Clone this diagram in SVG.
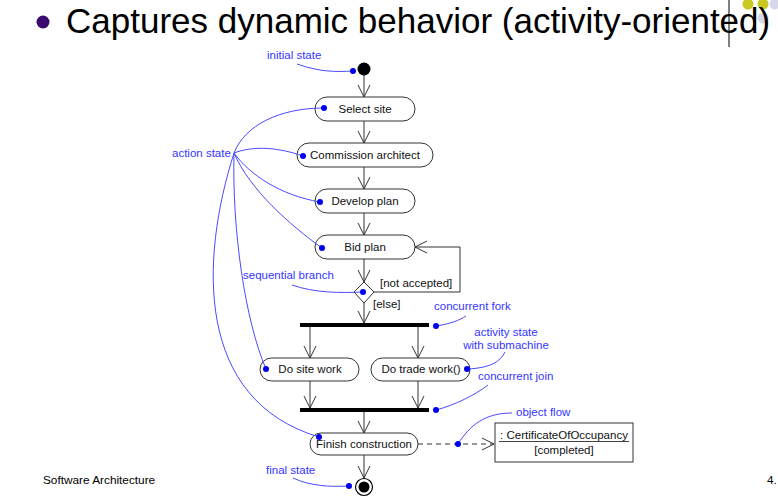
<svg xmlns="http://www.w3.org/2000/svg" width="778" height="500" viewBox="0 0 778 500">
<style>
.node{fill:#fff;stroke:#333;stroke-width:1}
.t{font-family:"Liberation Sans",Arial,sans-serif;font-size:11.5px;fill:#111}
.c{text-anchor:middle}
.a{font-family:"Liberation Sans",Arial,sans-serif;font-size:11.5px;fill:#3535ff}
.ann{fill:none;stroke:#4a4aff;stroke-width:1}
.dot{fill:#0000ee}
.edge{fill:none;stroke:#333;stroke-width:1;marker-end:url(#arr)}
</style>
<defs>
<marker id="arr" markerUnits="userSpaceOnUse" markerWidth="14" markerHeight="14" refX="12" refY="6" orient="auto" viewBox="0 0 14 14" overflow="visible">
<path d="M0,0 L12,6 L0,12" fill="none" stroke="#333" stroke-width="1"/>
</marker>
</defs>
<rect width="778" height="500" fill="#fff"/>
<g id="title">
<circle cx="748" cy="4" r="5.5" fill="#c8c81e"/>
<circle cx="763" cy="4" r="5.5" fill="#c8c81e"/>
<circle cx="775" cy="4" r="5.5" fill="#d8d8ec"/>
<circle cx="763" cy="18" r="5.5" fill="#d8d8ec"/>
<circle cx="43" cy="22" r="6.5" fill="#3a0a6e"/>
<text x="66" y="33" font-family="'Liberation Sans',Arial,sans-serif" font-size="35" fill="#000">Captures dynamic behavior (activity-oriented)</text>
<line x1="729" y1="0" x2="729" y2="47" stroke="#000" stroke-width="1"/>
</g>
<g id="connectors">
<line class="edge" x1="364" y1="75" x2="364" y2="97"/>
<line class="edge" x1="364" y1="121" x2="364" y2="143"/>
<line class="edge" x1="364" y1="167" x2="364" y2="189"/>
<line class="edge" x1="364" y1="213" x2="364" y2="235"/>
<line class="edge" x1="364" y1="259" x2="364" y2="282"/>
<polyline class="edge" points="374,292 460,292 460,247 415,247"/>
<line class="edge" x1="364" y1="303" x2="364" y2="323"/>
<line class="edge" x1="310" y1="327" x2="310" y2="358"/>
<line class="edge" x1="418" y1="327" x2="418" y2="358"/>
<line class="edge" x1="310" y1="381" x2="310" y2="408"/>
<line class="edge" x1="418" y1="381" x2="418" y2="408"/>
<line class="edge" x1="364" y1="412" x2="364" y2="433"/>
<line class="edge" x1="364" y1="455" x2="364" y2="478"/>
<line class="edge" x1="418" y1="444" x2="494" y2="444" stroke-dasharray="5,4"/>
<text class="t" x="380" y="287">[not accepted]</text>
<text class="t" x="373" y="308">[else]</text>
</g>
<g id="initial"><circle cx="364" cy="69" r="6.5" fill="#000"/></g>
<g id="select-site"><rect class="node" x="315" y="97" width="100" height="24" rx="12"/><text class="t c" x="365" y="113">Select site</text></g>
<g id="commission"><rect class="node" x="297" y="143" width="136" height="24" rx="12"/><text class="t c" x="365" y="159">Commission architect</text></g>
<g id="develop"><rect class="node" x="315" y="189" width="100" height="24" rx="12"/><text class="t c" x="365" y="205">Develop plan</text></g>
<g id="bid"><rect class="node" x="315" y="235" width="100" height="24" rx="12"/><text class="t c" x="365" y="251">Bid plan</text></g>
<g id="branch"><polygon points="364,282 374,292 364,303 354,292" fill="#fff" stroke="#333"/></g>
<g id="fork"><rect x="300" y="323" width="129" height="4" fill="#000"/></g>
<g id="site-work"><rect class="node" x="260" y="358" width="99" height="23" rx="11.5"/><text class="t c" x="310" y="373">Do site work</text></g>
<g id="trade-work"><rect class="node" x="371" y="358" width="99" height="23" rx="11.5"/><text class="t c" x="421" y="373">Do trade work()</text></g>
<g id="join"><rect x="300" y="408" width="129" height="4" fill="#000"/></g>
<g id="finish"><rect class="node" x="310" y="433" width="108" height="22" rx="11"/><text class="t c" x="364" y="448">Finish construction</text></g>
<g id="certificate"><rect x="495" y="423" width="138" height="39" fill="#fff" stroke="#333"/><text class="t c" x="564" y="439">: CertificateOfOccupancy</text><line x1="499" y1="441.5" x2="629" y2="441.5" stroke="#111" stroke-width="0.8"/><text class="t c" x="564" y="454">[completed]</text></g>
<g id="final"><circle cx="364" cy="487" r="8.5" fill="#fff" stroke="#000" stroke-width="1.2"/><circle cx="364" cy="487" r="5.5" fill="#000"/></g>
<g id="annotations">
<text class="a" x="267" y="59">initial state</text>
<path class="ann" d="M297,64 C320,72 335,72 353,71"/><circle class="dot" cx="353" cy="71" r="3"/>
<text class="a" x="172" y="157">action state</text>
<path class="ann" d="M234,153 C245,125 280,108 324,108"/><circle class="dot" cx="324" cy="108" r="3"/>
<path class="ann" d="M234,153 C255,145 280,148 303,156"/><circle class="dot" cx="303" cy="156" r="3"/>
<path class="ann" d="M234,153 C250,175 280,195 320,202"/><circle class="dot" cx="320" cy="202" r="3"/>
<path class="ann" d="M234,153 C250,190 290,225 322,248"/><circle class="dot" cx="322" cy="248" r="3"/>
<path class="ann" d="M234,153 C232,230 245,320 266,369"/><circle class="dot" cx="266" cy="369" r="3"/>
<path class="ann" d="M234,153 C200,260 195,400 319,437"/><circle class="dot" cx="319" cy="437" r="3"/>
<text class="a" x="243" y="279">sequential branch</text>
<path class="ann" d="M292,285 C315,293 340,293 363,292"/><circle class="dot" cx="363" cy="292" r="3"/>
<text class="a" x="434" y="310">concurrent fork</text>
<path class="ann" d="M436,326 C450,324 460,320 466,316"/><circle class="dot" cx="436" cy="326" r="3"/>
<text class="a c" x="506" y="336">activity state</text>
<text class="a c" x="506" y="349">with submachine</text>
<path class="ann" d="M467,369 C490,368 500,362 505,352"/><circle class="dot" cx="467" cy="369" r="3"/>
<text class="a" x="478" y="380">concurrent join</text>
<path class="ann" d="M436,410 C455,405 475,395 488,385"/><circle class="dot" cx="436" cy="410" r="3"/>
<text class="a" x="516" y="416">object flow</text>
<path class="ann" d="M458,444 C470,425 485,413 512,413"/><circle class="dot" cx="458" cy="444" r="3"/>
<text class="a" x="266" y="474">final state</text>
<path class="ann" d="M293,478 C310,486 330,487 349,486"/><circle class="dot" cx="349" cy="486" r="3"/>
</g>
<g id="footer">
<text x="43" y="484" font-family="'Liberation Sans',Arial,sans-serif" font-size="11.8" fill="#000">Software Architecture</text>
<text x="767" y="484" font-family="'Liberation Sans',Arial,sans-serif" font-size="11.8" fill="#000">4.</text>
</g>
</svg>
